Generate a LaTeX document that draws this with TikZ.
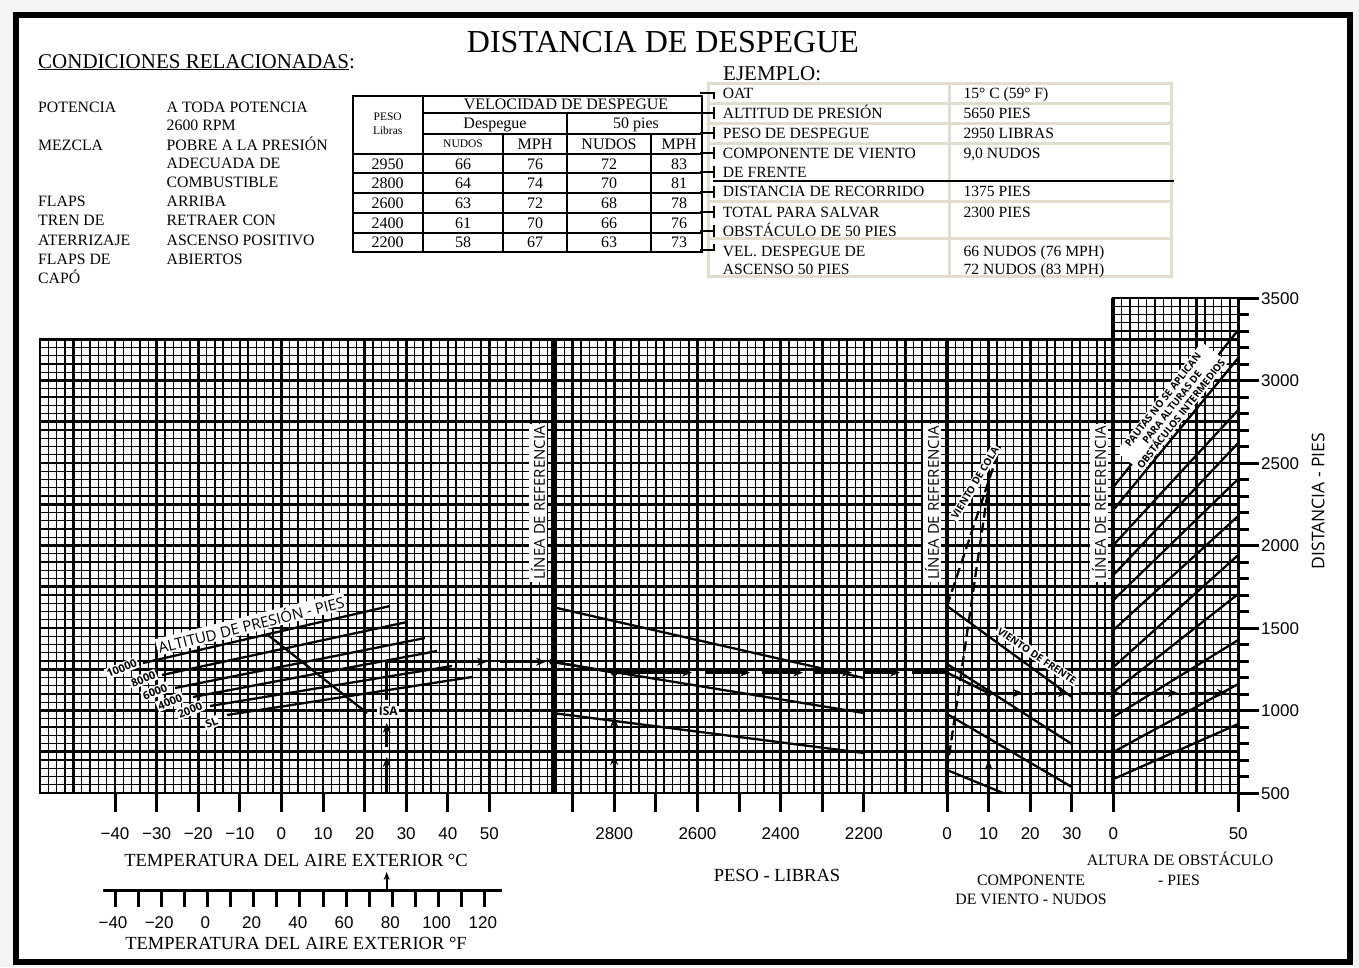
\documentclass[tikz,border=0pt]{standalone}
\usepackage{fontspec}
\setmainfont{Liberation Serif}
\setsansfont{Liberation Sans}
\newfontfamily\rotfont{Open Sans}
\usetikzlibrary{arrows.meta}

\definecolor{bordeej}{RGB}{226,221,204}
\definecolor{fondo}{RGB}{242,244,246}

\tikzset{
  every node/.style={inner sep=0pt},
  titulo/.style={font=\fontsize{32}{36}\selectfont, text height=21pt, text depth=0pt},
  seccion/.style={font=\fontsize{21}{24}\selectfont, text height=14pt, text depth=0pt, anchor=west},
  cond/.style={font=\fontsize{15.8}{18}\selectfont, text height=10.4pt, text depth=0pt, anchor=west},
  celda/.style={font=\fontsize{16}{18}\selectfont, text height=10.6pt, text depth=0pt},
  celdachica/.style={font=\fontsize{11.5}{13}\selectfont, text height=7.6pt, text depth=0pt},
  ejtxt/.style={font=\fontsize{15.6}{18}\selectfont, text height=10.3pt, text depth=0pt, anchor=west},
  escala/.style={font=\sffamily\fontsize{17}{20}\selectfont, text height=12.2pt, text depth=0pt},
  eje/.style={font=\fontsize{18.5}{21}\selectfont, text height=12.2pt, text depth=0pt},
  ejechico/.style={font=\fontsize{15.8}{18}\selectfont, text height=10.4pt, text depth=0pt},
  refl/.style={font=\rotfont\fontsize{15}{17}\selectfont, fill=white, inner sep=2pt, rotate=90},
  etiq/.style={font=\rotfont\bfseries\fontsize{10}{11}\selectfont, fill=white, inner sep=1.5pt},
  rejilla/.style={line width=1.45pt},
  rejillamayor/.style={line width=2.6pt},
  curva/.style={line width=2.3pt},
  cola/.style={line width=2.3pt, dash pattern=on 10pt off 5pt},
  ruta/.style={line width=2.5pt},
  punta/.style={line width=2.5pt, -{Stealth[length=10pt,width=8pt]}},
  marca/.style={line width=3pt},
}

\begin{document}
\begin{tikzpicture}[x=1pt,y=-1pt]
\useasboundingbox (0,0) rectangle (1359,967);
\fill[fondo] (0,0) rectangle (1359,967);
\draw[line width=6pt, fill=white] (16,15) rectangle (1350,962);

% encabezado
\node[titulo] (titulo) at (663,42) {DISTANCIA DE DESPEGUE};
\node[seccion] (condiciones) at (38,61) {\underline{CONDICIONES RELACIONADAS}:};
\node[seccion] (ejemplo) at (723,73.3) {\underline{EJEMPLO}:};

% condiciones relacionadas
\foreach \y/\t [count=\i] in {107/POTENCIA, 145/MEZCLA, 201/FLAPS, 220/TREN DE,
    240/ATERRIZAJE, 259/FLAPS DE, 278/CAPÓ}
  \node[cond] (cA-\i) at (38,\y) {\t};
\foreach \y/\t [count=\i] in {107/A TODA POTENCIA, 125/2600 RPM, 145/POBRE A LA PRESIÓN,
    163/ADECUADA DE, 182/COMBUSTIBLE, 201/ARRIBA, 220/RETRAER CON,
    240/ASCENSO POSITIVO, 259/ABIERTOS}
  \node[cond] (cB-\i) at (166.5,\y) {\t};

% tabla de velocidades
\draw[line width=2pt] (352.7,95.7) rectangle (702,251.7);
\draw[line width=2pt] (422.8,95.7) -- (422.8,251.7);
\draw[line width=2pt] (422.8,113.3) -- (702,113.3) (422.8,134.3) -- (702,134.3);
\draw[line width=2pt] (567,113.3) -- (567,251.7);
\draw[line width=2pt] (503,134.3) -- (503,251.7) (651,134.3) -- (651,251.7);
\foreach \y in {154,173.3,193.3,213.3,233.3}
  \draw[line width=2pt] (352.7,\y) -- (702,\y);
\node[celdachica] (peso) at (387.7,117) {PESO};
\node[celdachica] (libras) at (387.7,131) {Libras};
\node[celda] (veloc) at (566,104.5) {VELOCIDAD DE DESPEGUE};
\node[celda] (despegue) at (495,123) {Despegue};
\node[celda] (cincuenta) at (636,123) {50 pies};
\node[celdachica] (hNa) at (463,144) {NUDOS};
\node[celda] (hMa) at (535,144) {MPH};
\node[celda] (hNb) at (609,144) {NUDOS};
\node[celda] (hMb) at (679,144) {MPH};
\foreach \y/\p/\a/\b/\c/\d [count=\i] in {163.7/2950/66/76/72/83, 183.3/2800/64/74/70/81,
    203.3/2600/63/72/68/78, 223.3/2400/61/70/66/76, 242.5/2200/58/67/63/73} {
  \node[celda] (fila\i-p) at (387.7,\y) {\p};
  \node[celda] (fila\i-a) at (463,\y) {\a};
  \node[celda] (fila\i-b) at (535,\y) {\b};
  \node[celda] (fila\i-c) at (609,\y) {\c};
  \node[celda] (fila\i-d) at (679,\y) {\d};
}

% tabla del ejemplo
\draw[bordeej, line width=2.5pt] (708.3,83.3) rectangle (1171.7,276.7);
\draw[bordeej, line width=2.5pt] (949.3,83.3) -- (949.3,276.7);
\foreach \y in {103.3,123.3,143.3,201.7,238.3}
  \draw[bordeej, line width=2.5pt] (708.3,\y) -- (1171.7,\y);
\draw[line width=2.5pt] (713,181) -- (1174,181);
\draw[line width=2pt] (700,93.3) -- (714,93.3) -- (714,99);
\foreach \y in {113.3,133.3,153.3,172.3,191.7,212.3,231}
  \draw[line width=2pt] (700,\y) -- (714,\y) (714,\y-6) -- (714,\y+6);
\draw[line width=2pt] (700,250) -- (714,250) -- (714,244);
\foreach \y/\t [count=\i] in {93.3/OAT, 113.3/ALTITUD DE PRESIÓN, 133.3/PESO DE DESPEGUE,
    153.3/COMPONENTE DE VIENTO, 172.3/DE FRENTE, 191.7/DISTANCIA DE RECORRIDO,
    212.3/TOTAL PARA SALVAR, 231/OBSTÁCULO DE 50 PIES, 251/VEL. DESPEGUE DE,
    269.5/ASCENSO 50 PIES}
  \node[ejtxt] (ejA-\i) at (722.7,\y) {\t};
\foreach \y/\t [count=\i] in {93.3/15° C (59° F), 113.3/5650 PIES, 133.3/2950 LIBRAS,
    153.3/{9,0 NUDOS}, 191.7/1375 PIES, 212.3/2300 PIES, 251/66 NUDOS (76 MPH),
    269.5/72 NUDOS (83 MPH)}
  \node[ejtxt] (ejB-\i) at (963.3,\y) {\t};

% rejilla
\begin{scope}
  \clip (40,339.25) -- (1113.4,339.25) -- (1113.4,298) -- (1238.2,298)
    -- (1238.2,793) -- (40,793) -- cycle;
  \foreach \i in {-10,...,135}
    \draw[rejilla] ({\i*8.32+115},290) -- ({\i*8.32+115},800);
  \foreach \i in {-10,-5,...,135}
    \draw[rejillamayor] ({\i*8.32+115},290) -- ({\i*8.32+115},800);
  \foreach \j in {0,...,61}
    \draw[rejilla] (30,{793-\j*8.25}) -- (1245,{793-\j*8.25});
  \foreach \j in {0,5,...,60}
    \draw[rejillamayor] (30,{793-\j*8.25}) -- (1245,{793-\j*8.25});
\end{scope}
\draw[line width=2.8pt] (40,339.25) -- (1113.4,339.25) -- (1113.4,298) -- (1238.2,298)
  -- (1238.2,793) -- (40,793) -- cycle;
\draw[line width=4pt] (552.6,339.25) -- (552.6,793);
\draw[line width=4pt] (947,339.25) -- (947,793);
\draw[line width=4pt] (1113.4,298) -- (1113.4,793);

% escalas inferiores
\foreach \k/\t in {0/−40,1/−30,2/−20,3/−10,4/0,5/10,6/20,7/30,8/40,9/50} {
  \draw[marca] ({115+\k*41.6},793) -- ++(0,19);
  \node[escala] (tc\k) at ({115+\k*41.6},833) {\t};
}
\foreach \k in {0,...,7}
  \draw[marca] ({572.6+\k*41.6},793) -- ++(0,19);
\foreach \k/\t in {1/2800,3/2600,5/2400,7/2200}
  \node[escala] (pw\k) at ({572.6+\k*41.6},833) {\t};
\foreach \k/\t in {0/0,1/10,2/20,3/30} {
  \draw[marca] ({947+\k*41.6},793) -- ++(0,19);
  \node[escala] (vw\k) at ({947+\k*41.6},833) {\t};
}
\draw[marca] (1113.4,793) -- ++(0,19);
\draw[marca] (1238.2,793) -- ++(0,19);
\node[escala] (ob0) at (1113.4,833) {0};
\node[escala] (ob50) at (1238.2,833) {50};

% escala de distancia
\foreach \k in {0,...,30}
  \draw[marca] (1238.2,{793-\k*16.5}) -- ++(11,0);
\foreach \k/\d in {0/500,5/1000,10/1500,15/2000,20/2500,25/3000,30/3500} {
  \draw[marca] (1238.2,{793-\k*16.5}) -- ++(21,0);
  \node[escala, anchor=west] (dist\d) at (1261,{793-\k*16.5}) {\d};
}
\node[font=\rotfont\fontsize{17.5}{20}\selectfont, rotate=90] (distancia) at (1318,501) {DISTANCIA - PIES};

% titulos de los ejes
\node[eje] (tempC) at (296,860) {TEMPERATURA DEL AIRE EXTERIOR °C};
\node[eje] (tempF) at (296,943) {TEMPERATURA DEL AIRE EXTERIOR °F};
\node[eje] (pesolib) at (777,875) {PESO - LIBRAS};
\node[ejechico] (compo) at (1031,880) {COMPONENTE};
\node[ejechico] (compo2) at (1031,899) {DE VIENTO - NUDOS};
\node[ejechico] (altura) at (1180,860) {ALTURA DE OBSTÁCULO};
\node[ejechico] (altura2) at (1179,880) {- PIES};

% escala Fahrenheit
\draw[marca] (103,890) -- (502,890);
\foreach \f in {-40,-30,...,120}
  \draw[marca] ({115+((\f-32)/1.8+40)*4.16},890) -- ++(0,17);
\foreach \f/\t in {-40/−40,-20/−20,0/0,20/20,40/40,60/60,80/80,100/100,120/120}
  \node[escala] (tf\f) at ({113+((\f-32)/1.8+40)*4.16},922) {\t};
\draw[line width=1.8pt, -{Stealth[length=8pt,width=6pt]}] (386.7,889) -- (386.7,872);

% altitud de presion
\draw[curva] (143,663) -- (390,606);
\draw[curva] (162,675) -- (407,622);
\draw[curva] (175,688) -- (425,638);
\draw[curva] (193,697) -- (437,651);
\draw[curva] (210,706) -- (452,666);
\draw[curva] (227,715) -- (472,677);
\draw[curva] (268,635) -- (367,713);

% peso
\draw[curva] (552.6,607) -- (863.8,678);
\draw[curva] (552.6,662) -- (863.8,713);
\draw[curva] (552.6,713) -- (863.8,753);

% viento
\draw[curva] (947,606) -- (1071.8,697);
\draw[curva] (947,664) -- (1071.8,744);
\draw[curva] (947,714) -- (1071.8,787);
\draw[curva] (947,770) -- (1003,793);
\draw[cola] (947,606) -- (1000,447);
\draw[cola] (947,770) -- (988,490);

% altura de obstaculo
\foreach \a/\b in {487/330, 510/358, 545/410, 575/443, 600/479, 630/516,
    667/555, 692/594, 717/640, 752/684, 779/724}
  \draw[curva] (1113.4,\a) -- (1238.2,\b);

% ejemplo
\coordinate (t25) at (386.7,793);
\coordinate (alt) at (386.7,661.7);
\coordinate (r2950) at (552.6,661.7);
\coordinate (w2800) at (614.2,672.6);
\coordinate (r0) at (947,672.6);
\coordinate (v10) at (988.6,693);
\draw[punta] (t25) -- (386.7,757);
\draw[punta] (386.7,747) -- (386.7,723);
\draw[ruta, -{Stealth[length=10pt,width=8pt]}] (386.7,700) -- (alt) -- (487,661.7);
\draw[punta] (500,661.7) -- (546,661.7);
\fill (r2950) circle (3.5pt);
\draw[ruta] (r2950) -- (w2800);
\draw[punta] (614.2,793) -- (614.2,755);
\draw[punta] (614.2,745) -- (614.2,717);
\draw[ruta] (614.2,707) -- (w2800);
\foreach \a/\b in {614.2/692, 705/750, 762/803, 815/852, 864/900}
  \draw[punta] (\a,672.6) -- (\b,672.6);
\draw[ruta] (912,672.6) -- (r0);
\fill (w2800) circle (3.5pt);
\draw[ruta] (r0) -- (v10);
\draw[punta] (988.6,793) -- (988.6,760);
\draw[ruta] (988.6,750) -- (v10);
\foreach \a/\b in {988.6/1023, 1035/1068, 1080/1120, 1132/1178, 1190/1227}
  \draw[punta] (\a,693) -- (\b,693);
\fill (v10) circle (3.5pt);

% rotulos sobre la rejilla
\node[refl] (ref1) at (538,503) {LÍNEA DE REFERENCIA};
\node[refl] (ref2) at (932,503) {LÍNEA DE REFERENCIA};
\node[refl] (ref3) at (1099,503) {LÍNEA DE REFERENCIA};
\node[etiq, font=\rotfont\fontsize{15}{17}\selectfont, rotate=14] (altitud) at (251,624) {ALTITUD DE PRESIÓN - PIES};
\node[etiq, font=\rotfont\bfseries\fontsize{11}{12}\selectfont, rotate=22] (a10) at (121.7,668.3) {10000};
\node[etiq, font=\rotfont\bfseries\fontsize{11}{12}\selectfont, rotate=22] (a8) at (143.3,679.3) {8000};
\node[etiq, font=\rotfont\bfseries\fontsize{11}{12}\selectfont, rotate=22] (a6) at (155,691.7) {6000};
\node[etiq, font=\rotfont\bfseries\fontsize{11}{12}\selectfont, rotate=22] (a4) at (170,701.7) {4000};
\node[etiq, font=\rotfont\bfseries\fontsize{11}{12}\selectfont, rotate=22] (a2) at (190,710) {2000};
\node[etiq, font=\rotfont\bfseries\fontsize{11}{12}\selectfont, rotate=22] (asl) at (211.7,722.7) {SL};
\node[etiq, font=\rotfont\bfseries\fontsize{12}{13}\selectfont] (isa) at (388.3,711.7) {ISA};
\node[etiq, rotate=59] (vcola) at (975,483) {VIENTO DE COLA};
\node[etiq, rotate=-34] (vfrente) at (1037,656) {VIENTO DE FRENTE};
\node[etiq, rotate=52, align=center, font=\rotfont\bfseries\fontsize{10}{11.5}\selectfont] (pautas) at (1172,407)
  {PAUTAS NO SE APLICAN\\PARA ALTURAS DE\\OBSTÁCULOS INTERMEDIOS};
\end{tikzpicture}
\end{document}
